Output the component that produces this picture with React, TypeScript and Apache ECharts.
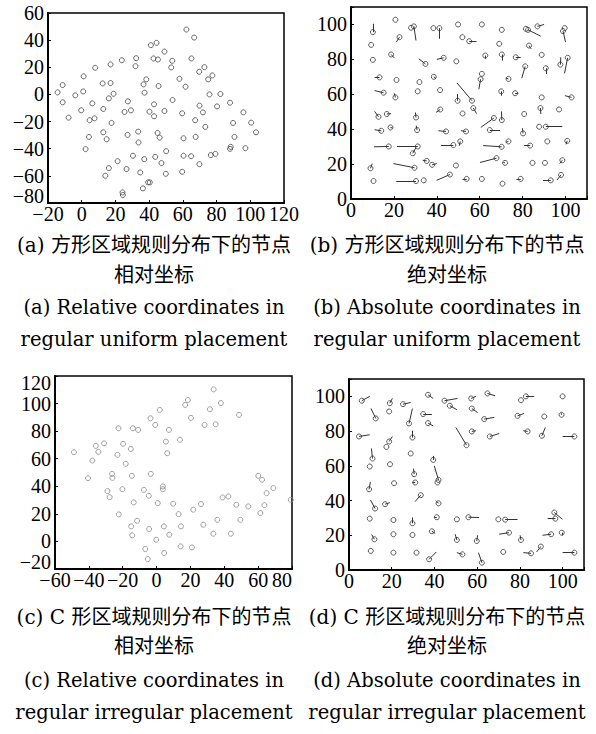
import React, { useEffect, useRef } from "react";
import * as echarts from "echarts";

// (a) relative coordinates, regular uniform placement
const relUniform: number[][] = [
  [-14.3, 1.5], [-11.3, 6.9], [-11.3, -5.8], [-7.8, -17.1], [-3.8, -0.7], [1.1, 13.3], [0.9, 2.2],
  [-0.3, -11.7], [8.0, 19.6], [6.3, -6.6], [7.6, -17.6], [4.7, -19], [4.3, -31.3], [2.3, -40.3],
  [12.4, 8.1], [12.8, -10.7], [12.8, -27.9], [14.8, -33], [14.0, -59.9], [16.1, -54.3], [17.1, 22.1],
  [17.1, 8.4], [16.1, -2.9], [18.9, 0.5], [17.7, -21], [23.8, 25.2], [21.3, -49.2], [24.2, -72.2],
  [24.4, -74.1], [25.4, -12.9], [27.4, -5.1], [29.2, -11.7], [27.2, -29.8], [26.6, -55], [32.3, 26.7],
  [31.9, 20.8], [33.5, -27.4], [33.7, -35.4], [30.4, -45.2], [34.7, -57.5], [36.3, -69.2], [37.1, -47.7],
  [36.7, 7.4], [38.3, 11.1], [37.3, 1.3], [39.4, -64.8], [40.4, -64.8], [41.0, 36.3], [44.4, 38],
  [42.6, 26.5], [45.2, 25.7], [45.6, 6.2], [40.2, -12.7], [42.9, -7.3], [42.9, -16.1], [45, -28.4],
  [46.2, -31.8], [43.6, -46], [47.3, -50.6], [50.1, -41.8], [49.9, -58.5], [49.1, 31.6], [49.1, -12.2],
  [53.7, 24.8], [53.1, 19.9], [53.9, -4.1], [58, 11.5], [61.6, 5.7], [59.6, -13.9], [60.4, -32.3],
  [60.4, -45.2], [59.6, -57], [62.1, 47.8], [66.7, 41.9], [65.1, 26.5], [69.7, 16.7], [72.8, 20.1],
  [75, 11.1], [77.5, 14], [75.8, 0.0], [82.3, 0.3], [67.3, -19], [69.9, -8.3], [71.9, -13.2],
  [67.6, -31.3], [73.3, -23.9], [64.9, -45.5], [69.8, -51.4], [76.6, -44.7], [79.3, -43.8], [80.3, -8.8],
  [88, -6.1], [89.8, -21], [90.6, -31.3], [88.4, -38.6], [88, -40.1], [95.9, -13.2], [100.5, -20.8],
  [97.1, -39.6], [103.4, -27.9],
];

// (b) absolute coordinates, regular uniform placement: [x, y, tailX, tailY]
const absUniform: number[][] = [
  [20.7, 102.7, 20.7, 102.7], [10.2, 95.6, 10.2, 100.4], [28.0, 98.1, 28.0, 98.1], [29.3, 98.9, 30.3, 90.8],
  [38.4, 97.9, 38.4, 97.9], [41.2, 97.9, 41.2, 91.8], [49.9, 100.0, 49.9, 100.0], [51.9, 92.7, 51.9, 92.7],
  [55.1, 90.4, 58.5, 90.4], [22.6, 92.7, 21.1, 89.9], [9.4, 88.3, 9.4, 88.3], [18.7, 82.8, 20.3, 80.7],
  [10.2, 79.7, 10.2, 79.7], [34.7, 77.4, 31.6, 80.3], [43.2, 80.9, 40.0, 80.0], [49.1, 78.9, 49.1, 78.9],
  [13.3, 69.7, 11.0, 69.7], [21.2, 68.2, 21.2, 68.2], [31.9, 67.0, 31.9, 67.0], [38.6, 70.0, 39.6, 69.0],
  [49.7, 56.3, 49.7, 60.2], [56.4, 56.3, 49.4, 66.5], [15.2, 60.9, 11.0, 62.1], [20.7, 58.2, 20.2, 60.5],
  [31.1, 61.7, 31.1, 61.7], [41.5, 62.4, 41.5, 62.4], [12.8, 47.1, 11.0, 50.2], [16.7, 48.7, 18.7, 48.9],
  [30.3, 46.7, 30.0, 49.6], [41.6, 51.3, 39.6, 49.6], [52.0, 49.0, 52.0, 49.0], [14.1, 39.1, 11.0, 39.7],
  [18.4, 41.0, 19.5, 40.6], [30.8, 39.5, 30.4, 42.0], [44.3, 38.7, 40.7, 39.1], [53.6, 38.7, 51.3, 39.1],
  [17.6, 30.1, 10.7, 29.9], [31.1, 30.1, 21.4, 30.1], [28.8, 26.2, 30.3, 29.5], [47.7, 30.9, 42.0, 30.9],
  [50.9, 33.0, 50.5, 30.5], [9.1, 17.6, 9.9, 20.3], [29.6, 17.9, 19.8, 20.3], [35.3, 21.8, 33.4, 22.2],
  [37.8, 19.6, 40.0, 20.3], [48.9, 19.2, 48.9, 19.2], [10.5, 10.3, 10.5, 10.3], [30.3, 10.3, 21.1, 10.3],
  [33.9, 10.7, 33.9, 10.7], [46.1, 14.0, 39.9, 10.7], [53.9, 11.5, 52.0, 11.5], [61.0, 100.0, 61.0, 100.0],
  [70.3, 96.9, 70.3, 96.9], [81.5, 97.5, 81.5, 97.5], [82.5, 96.9, 88.4, 93.3], [86.9, 98.9, 90.0, 100.0],
  [99.6, 97.9, 99.6, 97.9], [98.8, 96.2, 100.0, 89.9], [69.1, 88.9, 69.1, 88.9], [83.0, 87.9, 84.0, 86.0],
  [62.6, 82.2, 62.6, 80.3], [70.3, 82.8, 70.3, 79.3], [76.8, 81.2, 79.1, 81.2], [88.9, 82.6, 88.9, 82.6],
  [97.6, 77.0, 97.8, 81.2], [101.0, 80.9, 99.5, 72.0], [81.2, 76.0, 79.6, 69.3], [90.8, 74.9, 90.8, 71.6],
  [61.0, 71.7, 61.0, 71.7], [60.4, 68.6, 59.6, 62.9], [73.4, 68.8, 72.2, 69.3], [70.0, 61.7, 70.0, 59.2],
  [76.5, 60.6, 78.0, 60.6], [88.9, 58.2, 88.9, 58.2], [102.8, 58.2, 99.7, 59.2], [57.0, 52.1, 58.5, 49.0],
  [88.3, 52.1, 88.5, 48.7], [97.0, 51.3, 97.0, 51.3], [70.3, 45.2, 70.1, 50.2], [66.6, 46.4, 60.5, 41.0],
  [80.7, 48.7, 80.7, 48.7], [64.7, 39.5, 69.4, 39.5], [80.2, 37.6, 79.9, 40.6], [87.7, 41.4, 87.7, 41.4],
  [90.8, 41.4, 98.5, 41.6], [70.2, 29.9, 61.6, 30.6], [73.4, 33.0, 72.2, 32.5], [83.5, 30.6, 80.7, 30.6],
  [91.5, 33.0, 91.5, 33.0], [100.8, 33.3, 100.2, 31.3], [67.8, 23.4, 60.1, 20.9], [71.8, 20.7, 71.0, 20.9],
  [84.6, 20.7, 84.6, 20.7], [90.4, 20.7, 90.4, 20.7], [98.5, 22.2, 97.3, 20.3], [61.0, 11.5, 61.0, 11.5],
  [70.6, 8.8, 70.6, 8.8], [79.1, 11.5, 77.1, 11.5], [93.1, 10.7, 89.5, 10.7], [97.9, 13.8, 96.0, 10.9],
];

// (c) relative coordinates, regular irregular (C-shaped) placement
const relIrregular: number[][] = [
  [-48.8, 64.7], [-40.5, 45.9], [-37.9, 58.7], [-35.9, 69.3], [-34.4, 65], [-31, 71.2], [-29, 36.5],
  [-27.7, 32.1], [-26.3, 49], [-26.1, 46.1], [-23.1, 62.8], [-22.5, 82.1], [-22.3, 19.6], [-20.2, 37.9],
  [-19.8, 70.8], [-18.2, 56.3], [-15.2, 67.1], [-14.6, 47.6], [-14, 82.1], [-13.5, 28.3], [-15, 10.9],
  [-14.4, 4.4], [-11.5, 15], [-10.9, 80.9], [-7.5, 37.4], [-6.7, -5.5], [-5.2, -12.8], [-4.6, 33.1],
  [-4.4, 9], [-3.6, 89.3], [-3.4, 49], [-0.8, 84.5], [-0.2, 1.2], [0.7, 27.8], [1.9, 95.4], [3.7, 39.9],
  [3.7, 37.9], [4.3, 10.9], [4.5, -8.4], [5.5, 72.4], [6.3, 64], [7.3, 80.9], [7.5, 4.9], [9.8, 27.3],
  [13.8, 73.7], [13, 19.8], [14.4, 10.9], [14.2, -3.6], [16.9, 99], [18.5, 102.6], [20.3, 89.6],
  [21.7, 23], [20.9, -4.3], [26.2, 27.1], [27.6, 12.1], [28.4, 84.5], [31.5, 95.9], [33.7, 110.3],
  [33.5, 5.6], [34.9, 85], [35.9, 15.7], [38.0, 100.4], [39, 31.9], [42.4, 32.6], [43.9, 5.6],
  [47.1, 26.6], [48.7, 91.8], [49.5, 15.7], [54.2, 25.4], [60.1, 47.6], [62.3, 44.7], [61.3, 20.6],
  [65, 35], [63.7, 26.3], [69, 38.7], [79.3, 30.2],
];

// (d) absolute coordinates, regular irregular (C-shaped) placement: [x, y, tailX, tailY]
const absIrregular: number[][] = [
  [6.0, 97.5, 9.7, 100.0], [19.1, 96.1, 20.3, 98.8], [18.8, 91.3, 18.8, 91.3], [25.3, 95.5, 28.9, 96.5],
  [37.0, 100.9, 39.4, 98.8], [44.7, 97.5, 50.8, 98.8], [47.2, 94.6, 50.5, 92.3], [12.5, 87.3, 10.3, 93.0],
  [28.1, 84.4, 29.7, 93.0], [34.7, 89.8, 38.8, 89.8], [37.0, 84.6, 39.4, 83.0], [55.0, 71.9, 50.0, 82.1],
  [4.7, 76.9, 9.7, 77.9], [18.8, 74.0, 20.3, 76.9], [17.5, 70.9, 17.5, 70.9], [29.7, 76.3, 29.7, 80.2],
  [11.0, 64.2, 10.5, 70.0], [9.7, 59.6, 9.7, 59.6], [19.2, 60.9, 19.2, 60.9], [28.9, 67.1, 28.9, 67.1],
  [39.4, 63.4, 39.4, 65.7], [30.5, 55.2, 30.2, 58.4], [41.4, 50.4, 41.4, 50.4], [41.9, 51.9, 39.9, 60.0],
  [21.1, 50.0, 21.1, 50.0], [31.0, 50.4, 29.7, 50.4], [9.4, 46.5, 10.0, 50.7], [33.6, 43.1, 30.9, 39.4],
  [12.2, 35.4, 10.0, 40.4], [16.9, 37.9, 19.1, 38.8], [41.9, 38.4, 40.6, 40.0], [9.7, 29.6, 9.7, 29.6],
  [20.8, 28.8, 20.8, 28.8], [29.7, 26.9, 29.7, 30.2], [41.1, 30.4, 40.0, 30.4], [50.5, 29.2, 50.5, 29.2],
  [55.9, 30.4, 60.9, 30.2], [11.9, 17.7, 10.6, 20.4], [20.8, 20.6, 20.8, 20.6], [29.7, 20.2, 29.7, 20.2],
  [38.8, 22.3, 40.3, 21.1], [50.5, 17.3, 49.7, 20.6], [10.2, 11.0, 10.2, 11.0], [20.8, 10.0, 20.8, 10.0],
  [31.6, 10.0, 31.6, 10.0], [37.5, 6.2, 40.9, 10.4], [53.1, 9.0, 50.5, 10.0], [57.2, 98.8, 59.4, 100.0],
  [64.8, 101.7, 68.4, 100.3], [80.5, 97.8, 80.5, 97.8], [82.8, 100.0, 86.7, 100.0], [100.0, 100.0, 100.0, 100.0],
  [57.5, 93.0, 60.2, 90.7], [63.3, 86.9, 68.0, 87.9], [78.9, 88.8, 82.0, 90.2], [91.4, 88.4, 91.4, 88.4],
  [99.5, 89.4, 99.3, 90.4], [57.5, 79.8, 59.4, 80.2], [65.9, 76.9, 70.3, 78.6], [83.6, 79.8, 81.6, 80.2],
  [90.3, 77.3, 91.9, 82.1], [105.5, 76.9, 100.0, 76.9], [69.9, 29.2, 69.9, 29.2], [73.1, 29.0, 78.9, 29.2],
  [96.1, 33.1, 99.9, 29.2], [96.6, 29.6, 93.0, 29.6], [59.8, 16.7, 60.2, 20.0], [74.9, 21.5, 70.3, 20.6],
  [80.5, 17.3, 80.1, 20.0], [94.6, 20.6, 90.6, 20.0], [99.6, 21.5, 99.6, 20.0], [62.2, 4.2, 60.6, 10.0],
  [72.2, 10.4, 72.2, 10.4], [85.2, 9.6, 81.6, 10.0], [89.8, 13.5, 87.8, 10.4], [105.5, 10.0, 100.0, 10.0],
];

const xRanges = [[-20, 120], [0, 110], [-60, 80], [0, 110]];
const yRanges = [[-80, 60], [0, 110], [-20, 120], [0, 110]];
const tickStep = 20;

const captionZh1 = [
  "(a) 方形区域规则分布下的节点",
  "(b) 方形区域规则分布下的节点",
  "(c) C 形区域规则分布下的节点",
  "(d) C 形区域规则分布下的节点",
];
const captionZh2 = ["相对坐标", "绝对坐标", "相对坐标", "绝对坐标"];
const captionEn1 = [
  "(a) Relative coordinates in",
  "(b) Absolute coordinates in",
  "(c) Relative coordinates in",
  "(d) Absolute coordinates in",
];
const captionEn2 = [
  "regular uniform placement",
  "regular uniform placement",
  "regular irregular placement",
  "regular irregular placement",
];

const GRIDS = [
  { left: 48, top: 13, width: 236, height: 190 },
  { left: 351, top: 7, width: 236, height: 192 },
  { left: 55, top: 376, width: 237, height: 193 },
  { left: 349, top: 379, width: 235, height: 191 },
];
// vertical alignment of the y-axis end labels (pulled inside the frame where the reference does)
const Y_MIN_ALIGN = ["bottom", "middle", "bottom", "middle"];
const Y_MAX_ALIGN = ["middle", "middle", "top", "middle"];
const COL_CENTERS = [154, 447];
const ROW_LINES = [
  [245, 275, 307, 339],
  [617, 646, 680, 712],
];

const TICK_FONT = '"Liberation Serif", "Times New Roman", serif';
const CAP_FONT = '"DejaVu Serif", "Noto Sans CJK SC", serif';
const TICK_SIZE = 20;
const TICK_LH = 14;

function labelText(v: number) {
  return v < 0 ? "\u2212" + Math.abs(v) : String(v);
}

function isTick(v: number) {
  return Math.abs(v % tickStep) < 1e-9;
}

const baseTick = { fontFamily: TICK_FONT, fontSize: TICK_SIZE, lineHeight: TICK_LH, color: "#000" };

function makeYAxis(i: number) {
  const [min, max] = yRanges[i];
  return {
    type: "value",
    gridIndex: i,
    min,
    max,
    interval: tickStep,
    axisLine: { show: true, onZero: false, lineStyle: { color: "#000", width: 2 } },
    axisTick: { show: true, inside: true, length: 3, lineStyle: { color: "#000", width: 1 } },
    splitLine: { show: false },
    axisLabel: {
      ...baseTick,
      margin: 4,
      showMinLabel: true,
      showMaxLabel: true,
      verticalAlignMinLabel: Y_MIN_ALIGN[i],
      verticalAlignMaxLabel: Y_MAX_ALIGN[i],
      formatter: (v: number) => (isTick(v) ? labelText(v) : ""),
    },
  };
}

function makeXAxis(i: number) {
  const [min, max] = xRanges[i];
  return {
    type: "value",
    gridIndex: i,
    min,
    max,
    interval: tickStep,
    axisLine: { show: true, onZero: false, lineStyle: { color: "#000", width: 2 } },
    axisTick: { show: true, inside: true, length: 3, lineStyle: { color: "#000", width: 1 } },
    splitLine: { show: false },
    axisLabel: {
      ...baseTick,
      margin: 4,
      showMinLabel: true,
      showMaxLabel: true,
      alignMaxLabel: i === 2 ? "right" : undefined,
      formatter: (v: number) => (isTick(v) ? labelText(v) : ""),
    },
  };
}

export default function App() {
  const ref = useRef<HTMLDivElement>(null);
  useEffect(() => {
    if (!ref.current) return;
    const chart = echarts.init(ref.current, undefined, { renderer: "svg" });

    const grids = GRIDS.map((g) => ({
      ...g,
      show: true,
      borderColor: "#000",
      borderWidth: 1.5,
      backgroundColor: "#fff",
    }));

    const circleStyle = (c: string) => ({
      color: "rgba(255,255,255,0)",
      borderColor: c,
      borderWidth: 1,
    });

    const linkData = (arr: number[][]) =>
      arr
        .filter((p) => p[0] !== p[2] || p[1] !== p[3])
        .map((p) => ({ coords: [[p[0], p[1]], [p[2], p[3]]] }));

    const series: any[] = [
      {
        type: "scatter",
        xAxisIndex: 0,
        yAxisIndex: 0,
        symbol: "circle",
        symbolSize: 5,
        itemStyle: circleStyle("#444"),
        data: relUniform,
        silent: true,
      },
      {
        type: "lines",
        coordinateSystem: "cartesian2d",
        xAxisIndex: 1,
        yAxisIndex: 1,
        polyline: false,
        lineStyle: { color: "#333", width: 1, opacity: 1 },
        data: linkData(absUniform),
        silent: true,
      },
      {
        type: "scatter",
        xAxisIndex: 1,
        yAxisIndex: 1,
        symbol: "circle",
        symbolSize: 5,
        itemStyle: circleStyle("#333"),
        data: absUniform.map((p) => [p[0], p[1]]),
        silent: true,
      },
      {
        type: "scatter",
        xAxisIndex: 2,
        yAxisIndex: 2,
        symbol: "circle",
        symbolSize: 5,
        itemStyle: circleStyle("#888"),
        data: relIrregular,
        silent: true,
      },
      {
        type: "lines",
        coordinateSystem: "cartesian2d",
        xAxisIndex: 3,
        yAxisIndex: 3,
        polyline: false,
        lineStyle: { color: "#333", width: 1, opacity: 1 },
        data: linkData(absIrregular),
        silent: true,
      },
      {
        type: "scatter",
        xAxisIndex: 3,
        yAxisIndex: 3,
        symbol: "circle",
        symbolSize: 5,
        itemStyle: circleStyle("#333"),
        data: absIrregular.map((p) => [p[0], p[1]]),
        silent: true,
      },
    ];

    const graphic: any[] = [];
    for (let i = 0; i < 4; i++) {
      const cx = COL_CENTERS[i % 2];
      const rows = ROW_LINES[Math.floor(i / 2)];
      const lines = [captionZh1[i], captionZh2[i], captionEn1[i], captionEn2[i]];
      lines.forEach((t, k) => {
        graphic.push({
          type: "text",
          x: cx,
          y: rows[k],
          style: {
            text: t,
            fill: "#000",
            font: `${k < 2 ? 20 : 19.5}px ${CAP_FONT}`,
            textAlign: "center",
            textVerticalAlign: "middle",
          },
        });
      });
    }

    chart.setOption({
      animation: false,
      backgroundColor: "#fff",
      grid: grids,
      xAxis: [0, 1, 2, 3].map(makeXAxis),
      yAxis: [0, 1, 2, 3].map(makeYAxis),
      series,
      graphic,
    });
    return () => chart.dispose();
  }, []);
  return (
    <div
      ref={ref}
      style={{ position: "absolute", left: 0, top: 0, width: 596, height: 734 }}
    />
  );
}
